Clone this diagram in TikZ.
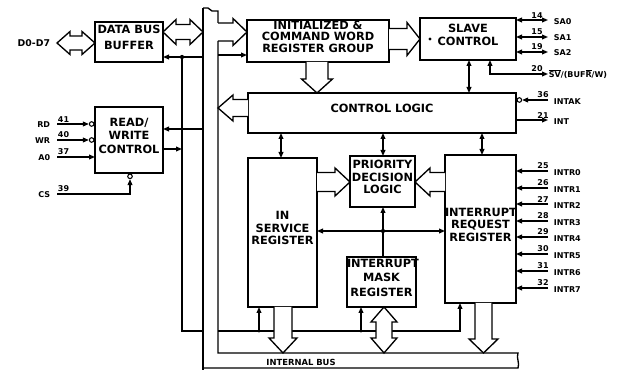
\documentclass[tikz,border=0pt]{standalone}
\usepackage{fontspec}
\setmainfont{DejaVu Sans}
\usetikzlibrary{arrows.meta,calc,fit}
\newcommand{\ovl}[1]{$\overline{\hbox{#1}}$}
% hollow single arrow, horizontal: #1 tail, #2 tip, #3 shaft half width, #4 head half width, #5 head length (px)
\newcommand{\HArrow}[5]{%
 \draw[hol] let \p1=(#1),\p2=(#2),
   \n1={\x2-#5*0.75pt*(2*(\x2>\x1)-1)},
   \n2={\y2+#3*0.75pt}, \n3={\y2-#3*0.75pt},
   \n4={\y2+#4*0.75pt}, \n5={\y2-#4*0.75pt} in
 (\x1,\n2) -- (\n1,\n2) -- (\n1,\n4) -- (\x2,\y2) -- (\n1,\n5) -- (\n1,\n3) -- (\x1,\n3);}
% hollow single arrow, vertical
\newcommand{\VArrow}[5]{%
 \draw[hol] let \p1=(#1),\p2=(#2),
   \n1={\y2-#5*0.75pt*(2*(\y2>\y1)-1)},
   \n2={\x2+#3*0.75pt}, \n3={\x2-#3*0.75pt},
   \n4={\x2+#4*0.75pt}, \n5={\x2-#4*0.75pt} in
 (\n2,\y1) -- (\n2,\n1) -- (\n4,\n1) -- (\x2,\y2) -- (\n5,\n1) -- (\n3,\n1) -- (\n3,\y1);}
% hollow double arrow, horizontal: #1 left tip, #2 right tip
\newcommand{\HDArrow}[5]{%
 \draw[hol] let \p1=(#1),\p2=(#2),
   \n1={\x1+#5*0.75pt}, \n6={\x2-#5*0.75pt},
   \n2={\y1+#3*0.75pt}, \n3={\y1-#3*0.75pt},
   \n4={\y1+#4*0.75pt}, \n5={\y1-#4*0.75pt} in
 (\x1,\y1) -- (\n1,\n4) -- (\n1,\n2) -- (\n6,\n2) -- (\n6,\n4) -- (\x2,\y1)
 -- (\n6,\n5) -- (\n6,\n3) -- (\n1,\n3) -- (\n1,\n5) -- cycle;}
% hollow double arrow, vertical: #1 top tip, #2 bottom tip
\newcommand{\VDArrow}[5]{%
 \draw[hol] let \p1=(#1),\p2=(#2),
   \n1={\y1-#5*0.75pt}, \n6={\y2+#5*0.75pt},
   \n2={\x1+#3*0.75pt}, \n3={\x1-#3*0.75pt},
   \n4={\x1+#4*0.75pt}, \n5={\x1-#4*0.75pt} in
 (\x1,\y1) -- (\n4,\n1) -- (\n2,\n1) -- (\n2,\n6) -- (\n4,\n6) -- (\x1,\y2)
 -- (\n5,\n6) -- (\n3,\n6) -- (\n3,\n1) -- (\n5,\n1) -- cycle;}
\begin{document}
\begin{tikzpicture}[x=0.75pt,y=-0.75pt,
  box/.style={draw,line width=1.5pt,inner sep=0pt,outer sep=0pt,align=center,
     font=\bfseries\fontsize{8.5}{#1}\selectfont},
  box/.default=9.4,
  sig/.style={line width=0.9pt},
  bus/.style={line width=1pt},
  arE/.style={-{Triangle[length=4.5pt,width=3.6pt]}},
  arB/.style={{Triangle[length=4.5pt,width=3.6pt]}-{Triangle[length=4.5pt,width=3.6pt]}},
  hol/.style={line width=1pt,fill=white,line join=miter},
  pinlab/.style={inner sep=0.5pt,font=\bfseries\fontsize{6}{7}\selectfont},
  bubble/.style={draw,line width=0.8pt,fill=white,circle,inner sep=0pt,minimum size=3.4pt},
  dot/.style={fill,circle,inner sep=0pt,minimum size=3.2pt}
]
\useasboundingbox (0,0) rectangle (633,370);

% ---------------- boxes ----------------
\node[box=12,fit={(95,22)(163,62)}] (buf) {DATA BUS\\BUFFER};
\node[box=10,fit={(95,107)(163,173)}] (rw) {READ/\\WRITE\\CONTROL};
\node[box=8.7,fit={(247,20)(389,62)}] (icw) {INITIALIZED \&\\COMMAND WORD\\REGISTER GROUP};
\node[box=9.8,fit={(420,18)(516,60)}] (slave) {SLAVE\\CONTROL};
\node[box,fit={(248,93)(516,133)}] (cl) {CONTROL LOGIC};
\node[box,fit={(248,158)(317,307)}] (isr) {IN\\SERVICE\\REGISTER};
\node[box,fit={(350,156)(415,207)}] (pdl) {PRIORITY\\DECISION\\LOGIC};
\node[box,fit={(445,155)(516,303)}] (irr) {INTERRUPT\\REQUEST\\REGISTER};
\node[box=11,fit={(347,257)(416,307)}] (imr) {INTERRUPT\\MASK\\REGISTER};
\fill (430,39) circle (1.2pt);

% ---------------- internal bus ----------------
\coordinate (bLt) at (203,8);
\coordinate (bLb) at (203,370);
\coordinate (bRt) at (218,11);
\coordinate (bR23) at (218,23);
\coordinate (bR41) at (218,41);
\coordinate (bRb) at (218,353);
\coordinate (bE1) at (518,353);
\coordinate (bE2) at (518,368);
\coordinate (bLo) at (203,368);
\draw[bus] (bLt) -- (bLb);
\draw[bus] (bLt) -- (208,8) .. controls (210,8) and (210,11) .. (212,11) -- (bRt) -- (bR23);
\draw[bus] (bR41) -- (bRb) -- (bE1) .. controls (516,358) and (520,363) .. (bE2) -- (bLo);
\node[pinlab,font=\bfseries\fontsize{6.3}{7}\selectfont] (ibus) at (301,362) {INTERNAL BUS};

\coordinate (L32) at (203,32);
\coordinate (L57) at (203,57);
\coordinate (L129) at (203,129);
\coordinate (L331) at (203,331);
\coordinate (R32) at (218,32);
\coordinate (R55) at (218,55);
\coordinate (R108) at (218,108);
\coordinate (R331) at (218,331);
\coordinate (J57) at (182,57);
\coordinate (J149) at (182,149);
\coordinate (J331) at (182,331);

% ---------------- data bus buffer ----------------
\coordinate (d07) at (57,43);
\node[pinlab,font=\bfseries\fontsize{7}{8}\selectfont,anchor=east] (d07l) at (51,43) {D0-D7};
\HDArrow{d07}{d07 -| buf.west}{7}{11.5}{13}
\HDArrow{L32 -| buf.east}{L32}{7.5}{12.5}{13}
\draw[sig,arE] (L57) -- (L57 -| buf.east);
\draw[sig] (J57) -- (J331) -- (L331);
\node[dot] (j57) at (J57) {};

% ---------------- read/write control ----------------
\draw[sig,arE] (L129) -- (L129 -| rw.east);
\draw[sig,arE] (rw.east |- J149) -- (J149);
\coordinate (pRD) at (57,124);
\coordinate (pWR) at (57,140);
\coordinate (pA0) at (57,157);
\coordinate (pCS) at (57,194);
\coordinate (cs2) at (130,194);
\node[bubble] (bRD) at ([xshift=-2.5pt]pRD -| rw.west) {};
\node[bubble] (bWR) at ([xshift=-2.5pt]pWR -| rw.west) {};
\node[bubble] (bCS) at ([yshift=-2.5pt]cs2 |- rw.south) {};
\draw[sig,arE] (pRD) -- (bRD.west);
\draw[sig,arE] (pWR) -- (bWR.west);
\draw[sig,arE] (pA0) -- (pA0 -| rw.west);
\draw[sig,arE] (pCS) -- (cs2) -- (bCS.south);
\node[pinlab,anchor=east] (lRD) at (51,125) {RD};
\node[pinlab,anchor=east] (lWR) at (51,141) {WR};
\node[pinlab,anchor=east] (lA0) at (51,158) {A0};
\node[pinlab,anchor=east] (lCS) at (51,195) {CS};
\node[pinlab,anchor=south west] (nRD) at (57,123) {41};
\node[pinlab,anchor=south west] (nWR) at (57,139) {40};
\node[pinlab,anchor=south west] (nA0) at (57,156) {37};
\node[pinlab,anchor=south west] (nCS) at (57,193) {39};

% ---------------- ICW and slave ----------------
\HArrow{R32}{icw.west |- R32}{9}{13.5}{14}
\draw[sig,arE] (R55) -- (icw.west |- R55);
\coordinate (s39) at (400,39);
\HArrow{icw.east |- s39}{slave.west |- s39}{10.5}{16.5}{13}
\coordinate (x317) at (317,77);
\VArrow{icw.south -| x317}{cl.north -| x317}{11}{15.5}{14}
\HArrow{cl.west |- R108}{R108}{8.5}{13}{15}
\coordinate (x469) at (469,77);
\draw[sig,arB] (slave.south -| x469) -- (cl.north -| x469);

\coordinate (pSA0) at (548,20);
\coordinate (pSA1) at (548,37);
\coordinate (pSA2) at (548,52);
\coordinate (pSV) at (548,74);
\coordinate (sv1) at (490,74);
\draw[sig,arB] (pSA0 -| slave.east) -- (pSA0);
\draw[sig,arB] (pSA1 -| slave.east) -- (pSA1);
\draw[sig,arB] (pSA2 -| slave.east) -- (pSA2);
\draw[sig,arB] (slave.south -| sv1) -- (sv1) -- (pSV);
\node[pinlab,anchor=south] (n14) at (537,19) {14};
\node[pinlab,anchor=south] (n15) at (537,36) {15};
\node[pinlab,anchor=south] (n19) at (537,51) {19};
\node[pinlab,anchor=south] (n20) at (537,73) {20};
\node[pinlab,anchor=west] (lSA0) at (553,22) {SA0};
\node[pinlab,anchor=west] (lSA1) at (553,38) {SA1};
\node[pinlab,anchor=west] (lSA2) at (553,53) {SA2};
\node[pinlab,anchor=west] (lSV) at (548,74) {\ovl{SV}/(BUF\ovl{R}/W)};

% ---------------- control logic pins ----------------
\coordinate (pINTAK) at (548,100);
\coordinate (pINT) at (548,120);
\node[bubble] (bINTAK) at ([xshift=2.5pt]pINTAK -| cl.east) {};
\draw[sig,arE] (pINTAK) -- (bINTAK.east);
\draw[sig,arE] (pINT -| cl.east) -- (pINT);
\node[pinlab,anchor=south] (n36) at (543,99) {36};
\node[pinlab,anchor=south] (n21) at (543,119) {21};
\node[pinlab,anchor=west] (lINTAK) at (553,102) {INTAK};
\node[pinlab,anchor=west] (lINT) at (553,122) {INT};

% ---------------- control logic to registers ----------------
\coordinate (x281) at (281,145);
\coordinate (x383) at (383,145);
\coordinate (x482) at (482,145);
\draw[sig,arB] (cl.south -| x281) -- (isr.north -| x281);
\draw[sig,arB] (cl.south -| x383) -- (pdl.north -| x383);
\draw[sig,arB] (cl.south -| x482) -- (irr.north -| x482);

\coordinate (y182) at (380,182);
\HArrow{isr.east |- y182}{pdl.west |- y182}{9.5}{14}{15}
\HArrow{irr.west |- y182}{pdl.east |- y182}{9.5}{14}{15}

\coordinate (j383) at (383,231);
\draw[sig,arB] (isr.east |- j383) -- (irr.west |- j383);
\draw[sig,arE] (imr.north -| j383) -- (pdl.south -| j383);
\node[dot] (dj383) at (j383) {};

% ---------------- bottom connections ----------------
\coordinate (B331) at (460,331);
\coordinate (j259) at (259,331);
\coordinate (j361) at (361,331);
\draw[sig,arE] (R331) -- (B331) -- (irr.south -| B331);
\draw[sig,arE] (j259) -- (isr.south -| j259);
\draw[sig,arE] (j361) -- (imr.south -| j361);
\node[dot,minimum size=2.6pt] (dj259) at (j259) {};
\node[dot,minimum size=2.6pt] (dj361) at (j361) {};

\coordinate (t283) at (283,353);
\coordinate (t384) at (384,353);
\coordinate (t483) at (483.5,353);
\VArrow{isr.south -| t283}{t283}{9}{14}{15}
\VDArrow{imr.south -| t384}{t384}{8}{13}{15}
\VArrow{irr.south -| t483}{t483}{8.5}{14.5}{14}

% ---------------- interrupt request inputs ----------------
\foreach \i/\yy/\nn in {0/171/25,1/188/26,2/204/27,3/221/28,4/237/29,5/254/30,6/271/31,7/288/32}{
  \coordinate (pI\i) at (548,\yy);
  \draw[sig,arE] (pI\i) -- (pI\i -| irr.east);
  \node[pinlab,anchor=south] (nI\i) at (543,\yy-1) {\nn};
  \node[pinlab,anchor=west] (lI\i) at (553,\yy+2) {INTR\i};
}
\end{tikzpicture}
\end{document}
